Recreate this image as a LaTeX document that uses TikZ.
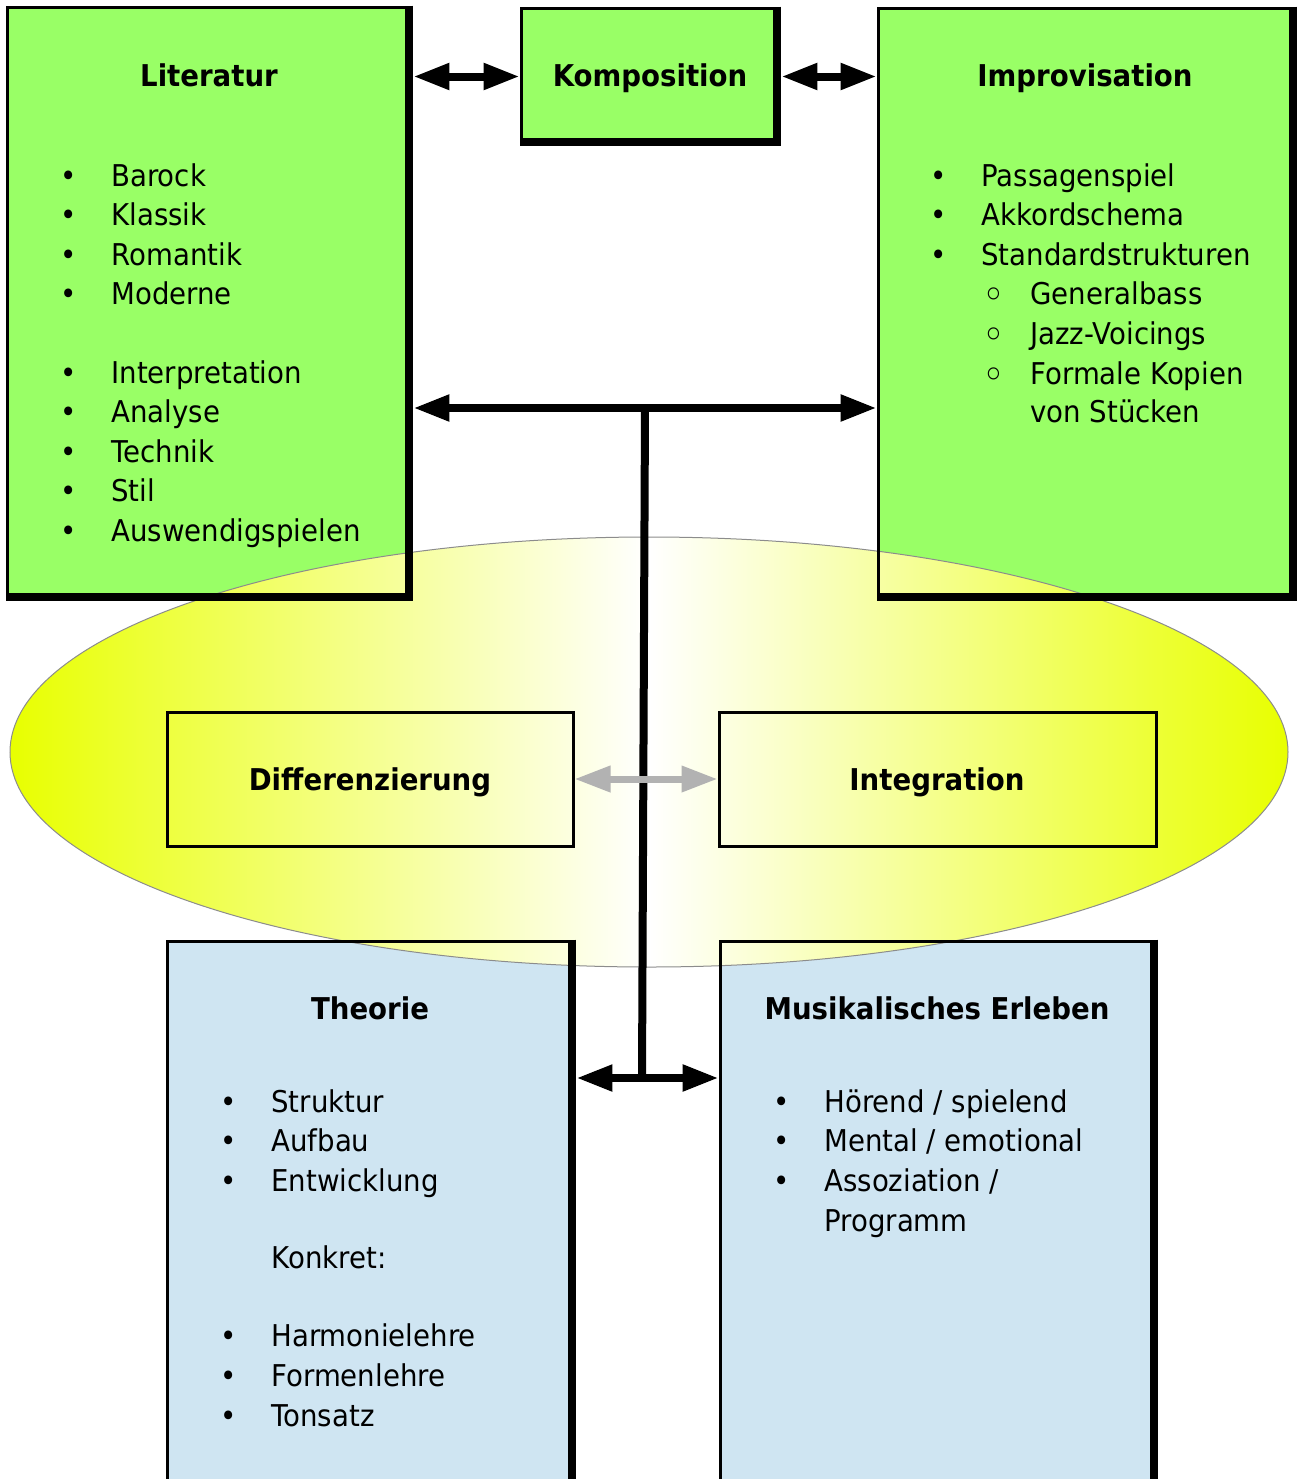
\documentclass[tikz,border=0pt]{standalone}
\usepackage{fontspec}
\setmainfont{DejaVu Sans}[FakeStretch=0.92]
\usetikzlibrary{arrows.meta}
\definecolor{litgreen}{RGB}{153,255,102}
\definecolor{theoblue}{RGB}{207,229,242}
\definecolor{ellyellow}{RGB}{232,255,0}
\definecolor{ellgray}{RGB}{140,140,140}
\definecolor{arrgray}{RGB}{178,178,178}
% thin edge left/top, heavy edge right/bottom
\newcommand{\shadowframe}[1]{%
\draw[thinrule] ([shift={(1.5,-8)}]#1.south west) -- ([shift={(1.5,1.5)}]#1.north west) -- ([shift={(-8,1.5)}]#1.north east);
\draw[thickrule] ([shift={(-4,0)}]#1.north east) -- ([shift={(-4,-4)}]#1.south east) -- ([shift={(0,-4)}]#1.south west);}
\begin{document}
\begin{tikzpicture}[x=0.5pt, y=-0.5pt,
every node/.style={inner sep=0pt, font=\fontsize{15pt}{18pt}\selectfont},
greenbox/.style={fill=litgreen},
bluebox/.style={fill=theoblue},
thinrule/.style={line width=1.5pt},
thickrule/.style={line width=4pt, line join=miter},
midbox/.style={draw, line width=1.5pt},
title/.style={anchor=base, font=\fontsize{15pt}{18pt}\selectfont\bfseries},
item/.style={anchor=base west, execute at begin node={\llap{•\hspace{17.4pt}}}},
subitem/.style={anchor=base west, execute at begin node={\llap{\raisebox{-2.8pt}{\scalebox{1.4}{◦}}\hspace{12.8pt}}}},
contline/.style={anchor=base west},
bigarrow/.style={line width=4pt, >={Triangle[length=18pt,width=12.5pt]}, <->},
grayarrow/.style={bigarrow, draw=arrgray, line width=3.5pt}]
\useasboundingbox (0,0) rectangle (1297,1479);
\clip (0,0) rectangle (1297,1479);
% box fills
\node[greenbox, minimum width=203.5pt, minimum height=297.5pt] (lit) at (209.5,303.5) {};%Literatur
\node[greenbox, minimum width=130.5pt, minimum height=69.5pt] (komp) at (650.5,76.5) {};%Komposition
\node[greenbox, minimum width=210pt, minimum height=297pt] (impro) at (1087,304) {};%Improvisation
\node[bluebox, minimum width=205pt, minimum height=290pt] (theo) at (371,1230) {};%Theorie
\node[bluebox, minimum width=219.5pt, minimum height=290pt] (erleb) at (938.5,1230) {};%Erleben
% ellipse
\coordinate (ell) at (649,752);
\shadedraw[draw=ellgray, line width=0.5pt, left color=ellyellow, right color=ellyellow, middle color=white] (ell) ellipse [x radius=319.5pt, y radius=107.5pt];
\shadowframe{lit}
\shadowframe{komp}
\shadowframe{impro}
\shadowframe{theo}
\shadowframe{erleb}
\node[midbox, minimum width=203pt, minimum height=67pt] (diff) at (370,779) {};
\node[midbox, minimum width=218.5pt, minimum height=67pt] (integ) at (937.5,779) {};
% titles
\node[title] (littitle) at (209,86) {Literatur};
\node[title] (komptitle) at (650,86) {Komposition};
\node[title] (improtitle) at (1085,86) {Improvisation};
\node[title] (difftitle) at (370,790) {Differenzierung};
\node[title] (integtitle) at (937,790) {Integration};
\node[title] (theotitle) at (370,1019) {Theorie};
\node[title] (erlebtitle) at (937,1019) {Musikalisches Erleben};
% lists
\foreach \y/\t [count=\i] in {186/Barock,225/Klassik,265/Romantik,304/Moderne,383/Interpretation,422/Analyse,462/Technik,501/Stil,541/Auswendigspielen}
  \node[item] (lit\i) at (111,\y) {\t};
\foreach \y/\t [count=\i] in {186/Passagenspiel,225/Akkordschema,265/Standardstrukturen}
  \node[item] (impro\i) at (981,\y) {\t};
\foreach \y/\t [count=\i] in {304/Generalbass,344/Jazz-Voicings,384/Formale Kopien}
  \node[subitem] (improsub\i) at (1030,\y) {\t};
\node[contline] (improsub4) at (1030,422) {von Stücken};
\foreach \y/\t [count=\i] in {1112/Struktur,1151/Aufbau,1191/Entwicklung}
  \node[item] (theo\i) at (271,\y) {\t};
\node[contline] (konkret) at (271,1268) {Konkret:};
\foreach \y/\t [count=\i] in {1346/Harmonielehre,1386/Formenlehre,1426/Tonsatz}
  \node[item] (theok\i) at (271,\y) {\t};
\node[item] (erleb1) at (824,1112) {Hörend / spielend};
\node[item] (erleb2) at (824,1151) {Mental / emotional};
\node[item] (erleb3) at (824,1191) {Assoziation /};
\node[contline] (erleb4) at (824,1231) {Programm};
% connectors
\coordinate (hub) at (645,408);
\coordinate (hubb) at (642,1078);
\draw[line width=4pt] (hub) -- (hubb);
\draw[bigarrow] (lit.east |- komp.west) -- (komp.west);
\draw[bigarrow] (komp.east) -- (impro.west |- komp.east);
\draw[bigarrow] (lit.east |- hub) -- (impro.west |- hub);
\draw[bigarrow] (theo.east |- hubb) -- (erleb.west |- hubb);
\draw[grayarrow] (diff.east) -- (integ.west);
\end{tikzpicture}
\end{document}
